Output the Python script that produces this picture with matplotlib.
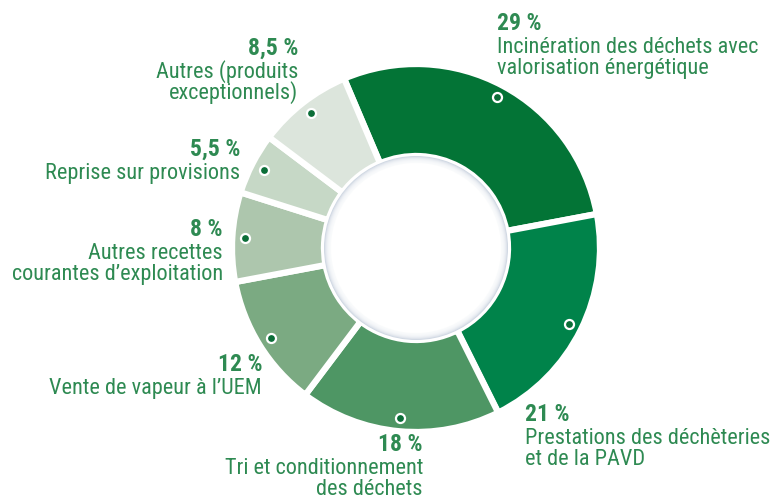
import matplotlib
matplotlib.use("Agg")
import numpy as np
import matplotlib.pyplot as plt
from matplotlib import font_manager
from matplotlib.patches import Circle

# data, clockwise from the top
values = [29, 21, 18, 12, 8, 5.5, 8.5]
pct_labels = ["29 %", "21 %", "18 %", "12 %", "8 %", "5,5 %", "8,5 %"]
names = [
    "Incinération des déchets avec\nvalorisation énergétique",
    "Prestations des déchèteries\net de la PAVD",
    "Tri et conditionnement\ndes déchets",
    "Vente de vapeur à l\u2019UEM",
    "Autres recettes\ncourantes d\u2019exploitation",
    "Reprise sur provisions",
    "Autres (produits\nexceptionnels)",
]
colors = ["#037436", "#00834A", "#4E9664", "#7BAA82", "#ADC6AD", "#C6D8C6", "#DCE5DC"]

installed = {f.name for f in font_manager.fontManager.ttflist}
family = "DejaVu Sans"
for cand in ["Roboto Condensed", "Liberation Sans Narrow", "Roboto"]:
    if cand in installed:
        family = cand
        break
plt.rcParams["font.family"] = [family, "DejaVu Sans"]

text_col = "#2E8A52"
W, H = 770, 499
fig = plt.figure(figsize=(W / 100, H / 100), dpi=100)
ax = fig.add_axes([0, 0, 1, 1])

cx, cy = 416, H - 248
R, r = 184, 92
start = 113

ax.pie(values, startangle=start, counterclock=False, radius=R, center=(cx, cy),
       colors=colors, wedgeprops=dict(width=R - r, edgecolor="white", linewidth=4.5))

# hole with a soft grey-blue rim fading to white
ax.add_patch(Circle((cx, cy), r, color="#D0D8E3", lw=0, zorder=3))
for i in range(1, 8):
    ax.add_patch(Circle((cx, cy), r - i * 0.9, color="white", alpha=0.3, lw=0, zorder=3))
ax.add_patch(Circle((cx, cy), r - 7, color="white", lw=0, zorder=3))

# markers at slice middles
total = sum(values)
cum = np.cumsum([0] + values)
for i, v in enumerate(values):
    mid = np.radians(start - (cum[i] + v / 2) / total * 360)
    ax.plot(cx + 171 * np.cos(mid), cy + 171 * np.sin(mid), "o", ms=6.5,
            mfc="#0B6E38", mec="white", mew=1.6, zorder=5)

# label anchors: x, baseline of the percent line (picture pixels), alignment
label_pos = [
    (497, 30, "left"),
    (525, 421, "left"),
    (423, 451, "right"),
    (262, 371, "right"),
    (223, 236, "right"),
    (240, 156, "right"),
    (298, 55, "right"),
]
for (x, y, ha), p, n in zip(label_pos, pct_labels, names):
    ax.text(x, H - y, p, ha=ha, va="baseline", fontsize=17, fontweight="bold", color=text_col)
    for j, line in enumerate(n.split("\n")):
        ax.text(x, H - (y + 23 + j * 21), line, ha=ha, va="baseline",
                fontsize=16, color=text_col)

ax.set_xlim(0, W)
ax.set_ylim(0, H)
ax.set_aspect("equal")
ax.axis("off")
fig.savefig("out.png", dpi=100)
